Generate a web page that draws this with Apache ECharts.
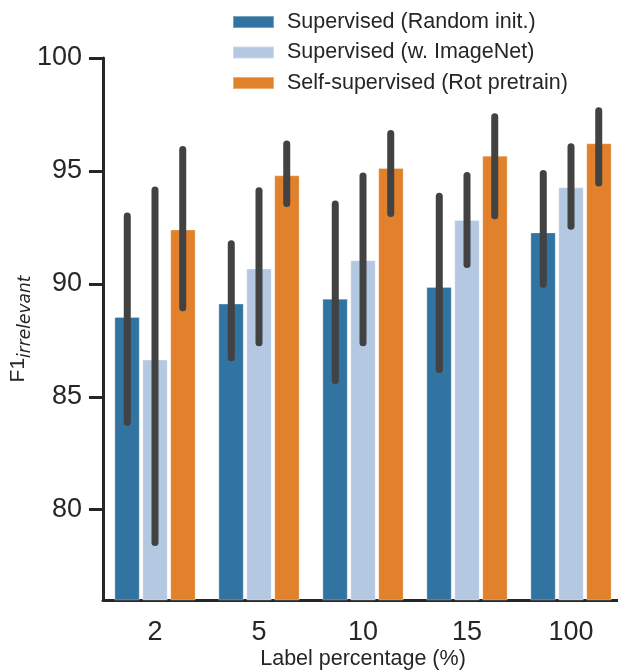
<!DOCTYPE html>
<html>
<head>
<meta charset="utf-8">
<script src="https://cdn.jsdelivr.net/npm/echarts@6/dist/echarts.min.js"></script>
<style>
html,body{margin:0;padding:0;background:#fff;}
#chart{width:618px;height:670px;}
</style>
</head>
<body>
<div id="chart"></div>
<script>
const categories = ['2', '5', '10', '15', '100'];
const seriesNames = ['Supervised (Random init.)', 'Supervised (w. ImageNet)', 'Self-supervised (Rot pretrain)'];
const randomInit = [88.53, 89.12, 89.34, 89.86, 92.27];
const imageNet = [86.64, 90.67, 91.04, 92.82, 94.27];
const rotPretrain = [92.40, 94.80, 95.12, 95.67, 96.22];
const randomInitLow = [83.87, 86.73, 85.72, 86.21, 89.98];
const randomInitHigh = [93.00, 91.78, 93.53, 93.88, 94.89];
const imageNetLow = [78.55, 87.39, 87.39, 90.86, 92.55];
const imageNetHigh = [94.15, 94.12, 94.77, 94.80, 96.07];
const rotPretrainLow = [88.94, 93.56, 93.11, 93.02, 94.47];
const rotPretrainHigh = [95.95, 96.19, 96.66, 97.40, 97.66];
const yTicks = [80, 85, 90, 95, 100];

const colors = ['#3274a1', '#b5c8e2', '#e1812c'];
const values = [randomInit, imageNet, rotPretrain];
const lows = [randomInitLow, imageNetLow, rotPretrainLow];
const highs = [randomInitHigh, imageNetHigh, rotPretrainHigh];
const textColor = '#262626';
const fontFamily = '"Liberation Sans", Arial, sans-serif';

const barSeries = values.map((v, i) => ({
  name: seriesNames[i],
  type: 'bar',
  data: v,
  barWidth: '24.2%',
  barGap: '11%',
  itemStyle: { color: colors[i], borderColor: 'rgba(255,255,255,0.35)', borderWidth: 0.8 },
  z: 2
}));

const errSeries = values.map((v, i) => ({
  type: 'custom',
  name: seriesNames[i] + ' err',
  data: v.map((_, k) => [k, lows[i][k], highs[i][k]]),
  z: 5,
  silent: true,
  renderItem: function (params, api) {
    const k = api.value(0);
    const band = api.size([1, 0])[0];
    const off = band * 0.8 / 3 * (i - 1);
    const p1 = api.coord([k, api.value(1)]);
    const p2 = api.coord([k, api.value(2)]);
    return {
      type: 'line',
      shape: { x1: p1[0] + off, y1: p1[1], x2: p2[0] + off, y2: p2[1] },
      style: { stroke: '#424242', lineWidth: 7, lineCap: 'round' }
    };
  }
}));

const chart = echarts.init(document.getElementById('chart'), null, { renderer: 'canvas' });
chart.setOption({
  animation: false,
  backgroundColor: '#ffffff',
  textStyle: { fontFamily: fontFamily },
  grid: { left: 103, top: 58, width: 520, bottom: 70, containLabel: false, outerBoundsMode: 'none' },
  legend: {
    orient: 'vertical',
    left: 227,
    top: 6,
    itemWidth: 41,
    itemHeight: 12,
    itemGap: 8.5,
    icon: 'rect',
    data: seriesNames,
    textStyle: { fontSize: 21.5, color: textColor, fontFamily: fontFamily, padding: [0, 0, 0, 8] }
  },
  xAxis: {
    type: 'category',
    data: categories,
    name: 'Label percentage (%)',
    nameLocation: 'middle',
    nameGap: 48,
    nameMoveOverlap: false,
    nameTextStyle: { fontSize: 21.5, color: textColor, fontFamily: fontFamily },
    axisLine: { lineStyle: { color: textColor, width: 3 } },
    axisTick: { alignWithLabel: true, length: 13, lineStyle: { color: textColor, width: 3 } },
    axisLabel: { fontSize: 27, color: textColor, margin: 19, fontFamily: fontFamily },
    splitLine: { show: false }
  },
  yAxis: {
    type: 'value',
    min: 76,
    max: 100,
    name: '{a|F1}{b|irrelevant}',
    nameLocation: 'middle',
    nameGap: 69,
    nameMoveOverlap: false,
    nameRotate: 90,
    nameTextStyle: {
      color: textColor,
      rich: {
        a: { fontSize: 21, color: textColor, fontFamily: fontFamily, lineHeight: 32 },
        b: { fontSize: 17, color: textColor, fontFamily: '"DejaVu Sans", sans-serif', fontStyle: 'italic', lineHeight: 17, verticalAlign: 'bottom' }
      }
    },
    axisLine: { show: true, lineStyle: { color: textColor, width: 3 } },
    axisTick: { show: true, length: 14, customValues: yTicks, lineStyle: { color: textColor, width: 3 } },
    axisLabel: { fontSize: 27, color: textColor, margin: 21, customValues: yTicks, fontFamily: fontFamily },
    splitLine: { show: false }
  },
  series: barSeries.concat(errSeries)
});
</script>
</body>
</html>
